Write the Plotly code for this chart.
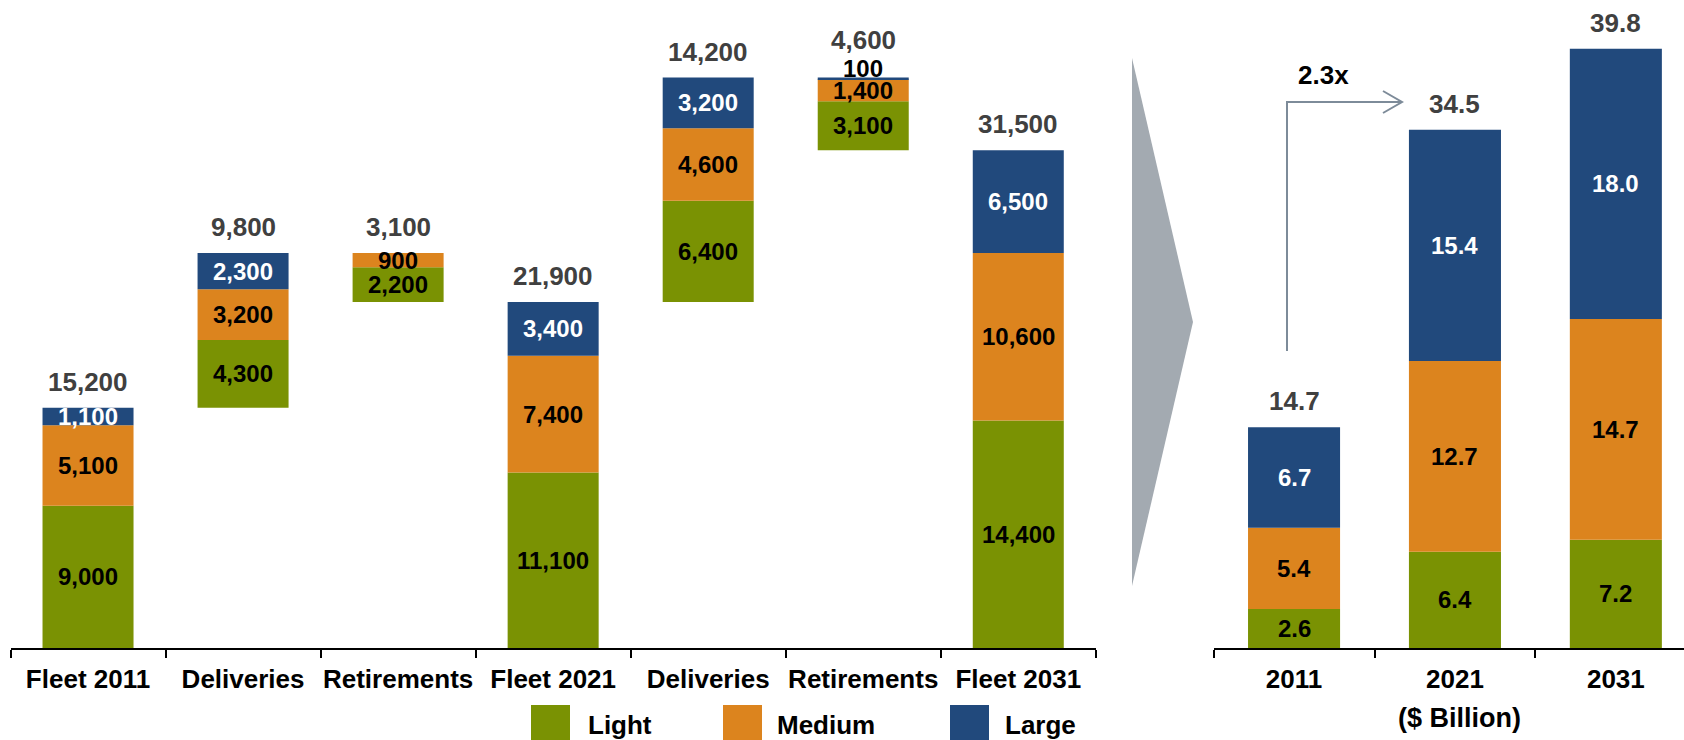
import plotly.graph_objects as go

# ---------------- data ----------------
fleet_keys = ["fleet2011", "deliv1", "retire1", "fleet2021", "deliv2", "retire2", "fleet2031"]
fleet_labels = ["Fleet 2011", "Deliveries", "Retirements", "Fleet 2021", "Deliveries", "Retirements", "Fleet 2031"]
fleet_kind = ["total", "add", "sub", "total", "add", "sub", "total"]
light_units = [9000, 4300, 2200, 11100, 6400, 3100, 14400]
medium_units = [5100, 3200, 900, 7400, 4600, 1400, 10600]
large_units = [1100, 2300, 0, 3400, 3200, 100, 6500]
unit_totals = [15200, 9800, 3100, 21900, 14200, 4600, 31500]

value_years = ["2011", "2021", "2031"]
light_value = [2.6, 6.4, 7.2]
medium_value = [5.4, 12.7, 14.7]
large_value = [6.7, 15.4, 18.0]
value_totals = [14.7, 34.5, 39.8]

series_names = ["Light", "Medium", "Large"]
series_colors = ["#7A9203", "#DC841E", "#21497C"]
label_colors = ["black", "black", "white"]

FONT = "Liberation Sans, Arial, Helvetica, sans-serif"
W, H = 1684, 740
AXIS_PX = 648
Y_DOM = [1 - AXIS_PX / H, 1.0]
LEFT_MAX = AXIS_PX / 15.8 * 1000
RIGHT_MAX = AXIS_PX / 15.02

fig = go.Figure()
annotations = []
shapes = []

# ---------------- left: waterfall of fleet units ----------------
bar_base = []
level = 0
for kind, tot in zip(fleet_kind, unit_totals):
    if kind == "total":
        base = 0
        level = tot
    elif kind == "add":
        base = level
        level += tot
    else:
        level -= tot
        base = level
    bar_base.append(base)

left_series = [light_units, medium_units, large_units]
running = list(bar_base)
tiny_on_top = [False] * len(fleet_keys)
for name, vals, col, lcol in zip(series_names, left_series, series_colors, label_colors):
    fig.add_trace(go.Bar(x=fleet_keys, y=vals, base=list(running), width=0.587,
                         marker=dict(color=col, line=dict(width=0)), name=name,
                         xaxis="x", yaxis="y", showlegend=False, hoverinfo="skip"))
    for i, v in enumerate(vals):
        if v <= 0:
            continue
        if v < 0.01 * LEFT_MAX:
            annotations.append(dict(x=i, y=running[i] + v, xref="x", yref="y", text=f"{v:,}",
                                    showarrow=False, yshift=9, yanchor="middle",
                                    font=dict(family=FONT, size=24, color="black", weight="bold")))
            tiny_on_top[i] = True
        else:
            annotations.append(dict(x=i, y=running[i] + v / 2, xref="x", yref="y", text=f"{v:,}",
                                    showarrow=False, yanchor="middle",
                                    font=dict(family=FONT, size=24, color=lcol, weight="bold")))
    running = [r + v for r, v in zip(running, vals)]

for i, t in enumerate(unit_totals):
    annotations.append(dict(x=i, y=running[i], xref="x", yref="y", text=f"{t:,}",
                            showarrow=False, yshift=38 if tiny_on_top[i] else 26, yanchor="middle",
                            font=dict(family=FONT, size=26, color="#404040", weight="bold")))

# ---------------- right: market value ----------------
right_series = [light_value, medium_value, large_value]
running2 = [0.0] * len(value_years)
for name, vals, col, lcol in zip(series_names, right_series, series_colors, label_colors):
    fig.add_trace(go.Bar(x=value_years, y=vals, base=list(running2), width=0.572,
                         marker=dict(color=col, line=dict(width=0)), name=name,
                         xaxis="x2", yaxis="y2", showlegend=False, hoverinfo="skip"))
    for i, v in enumerate(vals):
        annotations.append(dict(x=i, y=running2[i] + v / 2, xref="x2", yref="y2", text=f"{v:.1f}",
                                showarrow=False, yanchor="middle",
                                font=dict(family=FONT, size=24, color=lcol, weight="bold")))
    running2 = [r + v for r, v in zip(running2, vals)]

for i, t in enumerate(value_totals):
    annotations.append(dict(x=i, y=running2[i], xref="x2", yref="y2", text=f"{t:.1f}",
                            showarrow=False, yshift=26, yanchor="middle",
                            font=dict(family=FONT, size=26, color="#404040", weight="bold")))


def px(x, y):
    return f"{x / W:.5f},{1 - y / H:.5f}"


# gray chevron between panels
shapes.append(dict(type="path", xref="paper", yref="paper",
                   path=f"M {px(1132, 58)} L {px(1193, 322)} L {px(1132, 586)} Z",
                   fillcolor="#A3AAB1", line=dict(width=0), layer="below"))

# growth arrow
shapes.append(dict(type="path", xref="paper", yref="paper",
                   path=f"M {px(1287, 351)} L {px(1287, 102)} L {px(1402, 102)}",
                   line=dict(color="#7D8B99", width=2)))
shapes.append(dict(type="path", xref="paper", yref="paper",
                   path=f"M {px(1383, 91)} L {px(1402, 102)} L {px(1383, 113)}",
                   line=dict(color="#7D8B99", width=2)))
annotations.append(dict(x=1323 / W, y=1 - 75 / H, xref="paper", yref="paper", text="2.3x",
                        showarrow=False, xanchor="center", yanchor="middle",
                        font=dict(family=FONT, size=26, color="black", weight="bold")))

annotations.append(dict(x=1459 / W, y=1 - 718 / H, xref="paper", yref="paper", text="($ Billion)",
                        showarrow=False, xanchor="center", yanchor="middle",
                        font=dict(family=FONT, size=27, color="black", weight="bold")))

# legend
legend_x = [(531, 586), (723, 775), (950, 1003)]
for (sx, tx), name, col in zip(legend_x, series_names, series_colors):
    shapes.append(dict(type="rect", xref="paper", yref="paper",
                       x0=sx / W, x1=(sx + 39) / W, y0=0, y1=1 - 705 / H,
                       fillcolor=col, line=dict(width=0)))
    annotations.append(dict(x=tx / W, y=1 - 725 / H, xref="paper", yref="paper", text=name,
                            showarrow=False, xanchor="left", yanchor="middle",
                            font=dict(family=FONT, size=26, color="black", weight="bold")))

axis_common = dict(type="category", showline=True, linecolor="black", linewidth=2,
                   ticks="outside", ticklen=8, tickwidth=2, tickcolor="black",
                   tickson="boundaries", showgrid=False, zeroline=False, tickangle=0,
                   ticklabelstandoff=7,
                   tickfont=dict(family=FONT, size=26, color="black", weight="bold"),
                   automargin=False, fixedrange=True)

fig.update_layout(
    width=W, height=H,
    margin=dict(l=0, r=0, t=0, b=0),
    paper_bgcolor="white", plot_bgcolor="white",
    barmode="overlay", showlegend=False,
    xaxis=dict(domain=[10.5 / W, 1095.8 / W], range=[-0.5, 6.5], anchor="y",
               tickmode="array", tickvals=fleet_keys, ticktext=fleet_labels, **axis_common),
    yaxis=dict(domain=Y_DOM, range=[0, LEFT_MAX], visible=False, anchor="x", fixedrange=True),
    xaxis2=dict(domain=[1213.6 / W, 1.0], range=[-0.5, -0.5 + (W - 1213.6) / 160.9], anchor="y2",
                **axis_common),
    yaxis2=dict(domain=Y_DOM, range=[0, RIGHT_MAX], visible=False, anchor="x2", fixedrange=True),
    annotations=annotations,
    shapes=shapes,
)

fig.write_html("out.html", config={"displayModeBar": False},
               post_script="document.body.style.margin='0';document.body.style.overflow='hidden';")
